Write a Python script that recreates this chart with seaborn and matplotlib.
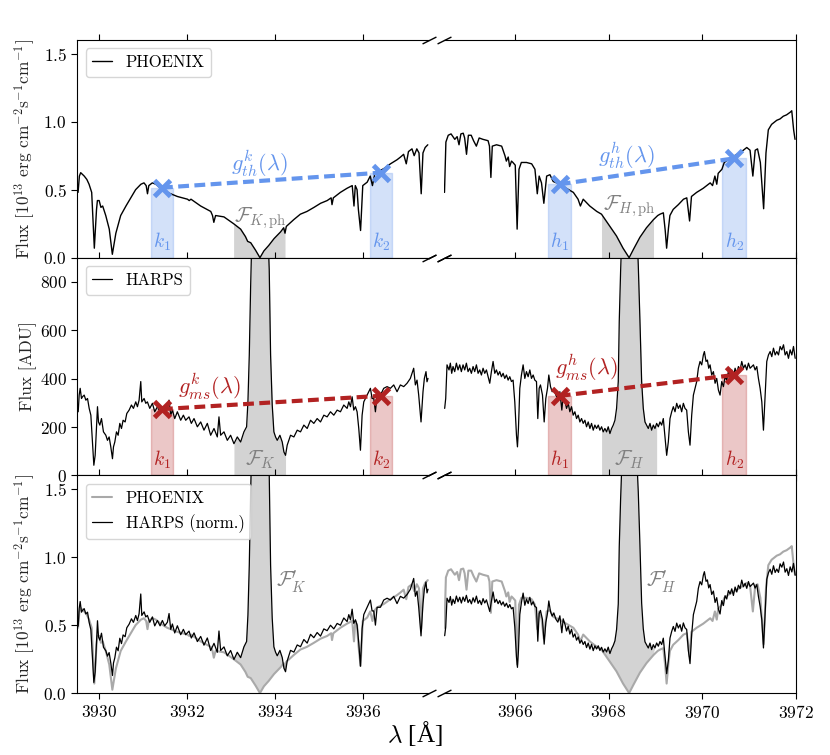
import numpy as np
import seaborn as sns
import matplotlib.pyplot as plt

# PHOENIX model spectrum around Ca II K [1e13 erg cm-2 s-1 cm-1]
phx_k_wl = [3929.52, 3929.55, 3929.58, 3929.66, 3929.72, 3929.77, 3929.83, 3929.89, 3929.94, 3929.96,
            3930.00, 3930.04, 3930.08, 3930.15, 3930.23, 3930.30, 3930.38, 3930.49, 3930.61, 3930.72,
            3930.83, 3930.95, 3931.02, 3931.07, 3931.10, 3931.13, 3931.21, 3931.29, 3931.40, 3931.55,
            3931.78, 3932.01, 3932.05, 3932.09, 3932.31, 3932.54, 3932.58, 3932.61, 3932.65, 3932.84,
            3933.06, 3933.22, 3933.33, 3933.38, 3933.45, 3933.56, 3933.66, 3933.75, 3933.86, 3933.98,
            3934.13, 3934.20, 3934.23, 3934.26, 3934.43, 3934.58, 3934.73, 3934.89, 3935.04, 3935.19,
            3935.28, 3935.30, 3935.33, 3935.49, 3935.64, 3935.76, 3935.80, 3935.83, 3935.87, 3935.90,
            3935.95, 3936.00, 3936.10, 3936.17, 3936.22, 3936.27, 3936.33, 3936.48, 3936.63, 3936.78,
            3936.86, 3936.93, 3936.99, 3937.04, 3937.12, 3937.17, 3937.23, 3937.28, 3937.33, 3937.37,
            3937.42, 3937.48]
phx_k_flux = [0.48, 0.60, 0.625, 0.60, 0.575, 0.54, 0.48, 0.07, 0.355, 0.42,
              0.42, 0.37, 0.38, 0.31, 0.21, 0.025, 0.18, 0.31, 0.38, 0.44,
              0.50, 0.54, 0.55, 0.53, 0.47, 0.53, 0.55, 0.54, 0.51, 0.48,
              0.45, 0.43, 0.42, 0.43, 0.38, 0.34, 0.31, 0.26, 0.31, 0.30,
              0.25, 0.21, 0.155, 0.12, 0.11, 0.055, 0.0, 0.05, 0.09, 0.14,
              0.19, 0.22, 0.18, 0.23, 0.28, 0.32, 0.34, 0.37, 0.40, 0.42,
              0.44, 0.39, 0.44, 0.48, 0.51, 0.53, 0.38, 0.53, 0.50, 0.355,
              0.20, 0.53, 0.555, 0.60, 0.53, 0.61, 0.63, 0.655, 0.69, 0.72,
              0.74, 0.76, 0.69, 0.78, 0.80, 0.75, 0.80, 0.77, 0.47, 0.77,
              0.81, 0.83]

# PHOENIX model spectrum around Ca II H
phx_h_wl = [3964.50, 3964.53, 3964.58, 3964.64, 3964.68, 3964.72, 3964.77, 3964.81, 3964.85, 3964.90,
            3964.93, 3964.97, 3965.01, 3965.07, 3965.12, 3965.18, 3965.24, 3965.32, 3965.43, 3965.46,
            3965.49, 3965.52, 3965.61, 3965.72, 3965.79, 3965.82, 3965.86, 3965.89, 3965.93, 3965.96,
            3966.01, 3966.05, 3966.09, 3966.14, 3966.25, 3966.36, 3966.43, 3966.48, 3966.52, 3966.57,
            3966.62, 3966.68, 3966.75, 3966.82, 3966.96, 3967.10, 3967.25, 3967.35, 3967.40, 3967.46,
            3967.60, 3967.75, 3967.85, 3968.03, 3968.17, 3968.31, 3968.44, 3968.53, 3968.67, 3968.81,
            3968.96, 3969.05, 3969.10, 3969.17, 3969.21, 3969.24, 3969.28, 3969.31, 3969.38, 3969.49,
            3969.60, 3969.67, 3969.73, 3969.77, 3969.88, 3970.02, 3970.17, 3970.22, 3970.27, 3970.31,
            3970.34, 3970.42, 3970.47, 3970.59, 3970.74, 3970.84, 3970.95, 3971.02, 3971.08, 3971.13,
            3971.18, 3971.24, 3971.31, 3971.36, 3971.41, 3971.48, 3971.59, 3971.66, 3971.73, 3971.80,
            3971.88, 3971.91, 3971.95, 3971.98]
phx_h_flux = [0.48, 0.85, 0.90, 0.91, 0.89, 0.87, 0.89, 0.83, 0.91, 0.915,
              0.88, 0.76, 0.90, 0.90, 0.86, 0.82, 0.88, 0.87, 0.86, 0.82,
              0.59, 0.82, 0.83, 0.82, 0.75, 0.71, 0.74, 0.67, 0.71, 0.70,
              0.68, 0.21, 0.65, 0.70, 0.70, 0.69, 0.65, 0.47, 0.60, 0.55,
              0.40, 0.60, 0.61, 0.56, 0.54, 0.51, 0.48, 0.43, 0.38, 0.43,
              0.38, 0.34, 0.32, 0.23, 0.16, 0.07, 0.0, 0.06, 0.15, 0.22,
              0.28, 0.31, 0.32, 0.33, 0.20, 0.07, 0.22, 0.31, 0.355, 0.39,
              0.43, 0.44, 0.27, 0.45, 0.48, 0.51, 0.55, 0.53, 0.60, 0.54,
              0.62, 0.65, 0.70, 0.73, 0.76, 0.78, 0.81, 0.79, 0.60, 0.79,
              0.80, 0.70, 0.36, 0.77, 0.94, 0.98, 1.01, 1.02, 1.04, 1.05,
              1.07, 1.08, 0.94, 0.87]

# HARPS observed spectrum around Ca II K [ADU]
harps_k_wl = [3929.523, 3929.545, 3929.568, 3929.598, 3929.621, 3929.659, 3929.697, 3929.735, 3929.773, 3929.811,
              3929.848, 3929.879, 3929.909, 3929.939, 3929.962, 3929.985, 3930.015, 3930.053, 3930.098, 3930.152,
              3930.189, 3930.227, 3930.265, 3930.303, 3930.326, 3930.356, 3930.394, 3930.432, 3930.470, 3930.508,
              3930.545, 3930.591, 3930.629, 3930.682, 3930.735, 3930.780, 3930.833, 3930.871, 3930.909, 3930.947,
              3930.970, 3931.023, 3931.061, 3931.098, 3931.152, 3931.212, 3931.265, 3931.326, 3931.386, 3931.439,
              3931.492, 3931.553, 3931.591, 3931.629, 3931.667, 3931.720, 3931.780, 3931.856, 3931.917, 3931.970,
              3932.045, 3932.098, 3932.159, 3932.235, 3932.311, 3932.386, 3932.462, 3932.538, 3932.614, 3932.689,
              3932.727, 3932.765, 3932.841, 3932.917, 3932.992, 3933.068, 3933.144, 3933.220, 3933.295, 3933.356,
              3933.386, 3933.417, 3933.447, 3933.477, 3933.523, 3933.598, 3933.659, 3933.720, 3933.795, 3933.841,
              3933.871, 3933.902, 3933.939, 3933.977, 3934.015, 3934.053, 3934.114, 3934.167, 3934.205, 3934.242,
              3934.280, 3934.318, 3934.356, 3934.432, 3934.508, 3934.583, 3934.659, 3934.735, 3934.811, 3934.886,
              3934.962, 3935.038, 3935.114, 3935.189, 3935.265, 3935.341, 3935.417, 3935.492, 3935.568, 3935.644,
              3935.682, 3935.720, 3935.758, 3935.795, 3935.833, 3935.871, 3935.909, 3935.947, 3935.985, 3936.023,
              3936.098, 3936.174, 3936.212, 3936.250, 3936.288, 3936.326, 3936.402, 3936.477, 3936.553, 3936.629,
              3936.705, 3936.780, 3936.856, 3936.932, 3937.008, 3937.083, 3937.159, 3937.197, 3937.235, 3937.273,
              3937.326, 3937.371, 3937.402, 3937.439, 3937.462, 3937.485]
harps_k_adu = [263, 332, 360, 318, 325, 332, 311, 318, 277, 249,
               138, 42, 83, 194, 284, 221, 208, 235, 180, 166,
               145, 159, 118, 69, 118, 138, 180, 166, 215, 194,
               228, 221, 256, 270, 291, 277, 304, 284, 311, 388,
               304, 318, 298, 304, 277, 298, 263, 284, 263, 284,
               263, 277, 311, 249, 270, 235, 263, 228, 249, 228,
               242, 215, 235, 201, 221, 187, 215, 166, 194, 159,
               242, 166, 180, 145, 166, 131, 159, 138, 180, 201,
               304, 498, 775, 1000, 1250, 1420, 1380, 1430, 1250, 1000,
               850, 498, 291, 180, 159, 145, 166, 138, 97, 83,
               125, 145, 166, 159, 187, 180, 208, 194, 228, 215,
               235, 221, 249, 242, 263, 249, 270, 263, 291, 277,
               304, 284, 325, 270, 284, 263, 194, 104, 249, 304,
               332, 360, 318, 318, 263, 332, 332, 360, 367, 360,
               374, 346, 374, 367, 381, 401, 443, 374, 394, 332,
               221, 346, 401, 429, 387, 401]

# HARPS observed spectrum around Ca II H [ADU]
harps_h_wl = [3964.504, 3964.526, 3964.554, 3964.597, 3964.625, 3964.654, 3964.682, 3964.718, 3964.754, 3964.789,
              3964.825, 3964.860, 3964.896, 3964.932, 3964.967, 3965.003, 3965.038, 3965.074, 3965.110, 3965.145,
              3965.181, 3965.217, 3965.252, 3965.288, 3965.323, 3965.359, 3965.395, 3965.430, 3965.466, 3965.501,
              3965.537, 3965.573, 3965.608, 3965.644, 3965.679, 3965.715, 3965.751, 3965.786, 3965.822, 3965.858,
              3965.893, 3965.929, 3965.964, 3966.000, 3966.036, 3966.057, 3966.078, 3966.107, 3966.142, 3966.178,
              3966.214, 3966.249, 3966.285, 3966.321, 3966.356, 3966.392, 3966.427, 3966.463, 3966.491, 3966.520,
              3966.548, 3966.591, 3966.627, 3966.662, 3966.698, 3966.726, 3966.762, 3966.798, 3966.833, 3966.876,
              3966.919, 3966.962, 3967.004, 3967.033, 3967.075, 3967.104, 3967.140, 3967.175, 3967.211, 3967.246,
              3967.282, 3967.318, 3967.353, 3967.389, 3967.425, 3967.460, 3967.496, 3967.531, 3967.567, 3967.603,
              3967.638, 3967.674, 3967.709, 3967.745, 3967.781, 3967.816, 3967.852, 3967.887, 3967.923, 3967.959,
              3967.994, 3968.030, 3968.066, 3968.101, 3968.137, 3968.172, 3968.208, 3968.229, 3968.258, 3968.286,
              3968.329, 3968.386, 3968.443, 3968.500, 3968.564, 3968.607, 3968.635, 3968.671, 3968.707, 3968.742,
              3968.778, 3968.813, 3968.849, 3968.885, 3968.920, 3968.956, 3968.991, 3969.027, 3969.063, 3969.098,
              3969.134, 3969.169, 3969.205, 3969.241, 3969.276, 3969.312, 3969.348, 3969.383, 3969.419, 3969.455,
              3969.490, 3969.526, 3969.561, 3969.597, 3969.632, 3969.668, 3969.704, 3969.739, 3969.775, 3969.811,
              3969.846, 3969.882, 3969.917, 3969.953, 3969.989, 3970.024, 3970.046, 3970.081, 3970.110, 3970.138,
              3970.167, 3970.202, 3970.238, 3970.274, 3970.309, 3970.345, 3970.380, 3970.416, 3970.452, 3970.487,
              3970.523, 3970.558, 3970.594, 3970.630, 3970.665, 3970.701, 3970.737, 3970.772, 3970.808, 3970.843,
              3970.879, 3970.915, 3970.950, 3970.986, 3971.021, 3971.057, 3971.093, 3971.128, 3971.164, 3971.199,
              3971.235, 3971.271, 3971.306, 3971.342, 3971.377, 3971.413, 3971.449, 3971.484, 3971.520, 3971.556,
              3971.591, 3971.627, 3971.662, 3971.698, 3971.734, 3971.769, 3971.805, 3971.840, 3971.876, 3971.912,
              3971.947, 3971.983]
harps_h_adu = [277, 318, 457, 436, 464, 422, 450, 429, 464, 436,
               457, 429, 457, 436, 464, 429, 443, 422, 450, 429,
               457, 422, 436, 415, 443, 422, 436, 408, 381, 429,
               471, 422, 436, 415, 429, 408, 422, 401, 415, 394,
               408, 388, 394, 304, 166, 118, 194, 360, 415, 457,
               401, 429, 408, 436, 401, 415, 394, 388, 235, 360,
               374, 332, 221, 318, 360, 415, 367, 346, 360, 332,
               318, 346, 270, 332, 304, 277, 298, 263, 284, 249,
               263, 235, 249, 221, 235, 215, 228, 201, 221, 194,
               215, 187, 208, 194, 208, 187, 201, 180, 194, 180,
               201, 173, 194, 208, 228, 277, 388, 637, 844, 1000,
               1250, 1420, 1380, 1420, 1250, 1000, 870, 637, 388, 277,
               221, 208, 194, 215, 187, 208, 194, 215, 201, 221,
               208, 235, 159, 83, 138, 235, 263, 284, 263, 298,
               277, 291, 263, 298, 277, 270, 180, 125, 249, 332,
               360, 388, 443, 471, 457, 498, 512, 471, 477, 443,
               457, 415, 429, 381, 401, 353, 332, 388, 367, 408,
               394, 429, 415, 436, 408, 443, 422, 450, 436, 471,
               443, 457, 436, 464, 443, 450, 457, 436, 450, 401,
               360, 304, 187, 332, 471, 498, 512, 491, 526, 498,
               512, 498, 533, 519, 540, 498, 512, 484, 519, 498,
               533, 484]

# pseudo-continuum anchor points (centres of the k1,k2 / h1,h2 windows)
k_anchor_wl = [3931.43, 3936.41]
h_anchor_wl = [3966.96, 3970.68]
k_gth = [0.515, 0.625]
h_gth = [0.54, 0.73]
k_gms = [274, 329]
h_gms = [329, 415]
k_core, h_core = 3933.66, 3968.45
core_halfwidth = 0.60
band_halfwidth = 0.25

BLUE = "cornflowerblue"
RED = "firebrick"
GRAY = "lightgray"

sns.set_style("ticks")
plt.rcParams["font.family"] = "serif"
plt.rcParams["font.serif"] = ["cmr10"]
plt.rcParams["mathtext.fontset"] = "cm"
plt.rcParams["axes.formatter.use_mathtext"] = True
plt.rcParams["axes.edgecolor"] = "black"
plt.rcParams["text.color"] = "black"
plt.rcParams["xtick.color"] = "black"
plt.rcParams["ytick.color"] = "black"


def linear(wl_pair, val_pair, wl):
    slope = (val_pair[1] - val_pair[0]) / (wl_pair[1] - wl_pair[0])
    return val_pair[0] + slope * (np.asarray(wl) - wl_pair[0])


sides = [
    dict(phx_wl=np.array(phx_k_wl), phx=np.array(phx_k_flux),
         h_wl=np.array(harps_k_wl), h=np.array(harps_k_adu, dtype=float),
         anchors=k_anchor_wl, gth=k_gth, gms=k_gms, core=k_core,
         xlim=(3929.5, 3937.5), xticks=[3930, 3932, 3934, 3936],
         names=("k", "K")),
    dict(phx_wl=np.array(phx_h_wl), phx=np.array(phx_h_flux),
         h_wl=np.array(harps_h_wl), h=np.array(harps_h_adu, dtype=float),
         anchors=h_anchor_wl, gth=h_gth, gms=h_gms, core=h_core,
         xlim=(3964.5, 3972.0), xticks=[3966, 3968, 3970, 3972],
         names=("h", "H")),
]

fig, axes = plt.subplots(3, 2, figsize=(8.3, 7.55), dpi=100, sharex="col",
                         gridspec_kw=dict(hspace=0, wspace=0.045))
fig.subplots_adjust(left=0.093, right=0.959, top=0.947, bottom=0.082)

for col, s in enumerate(sides):
    lo, hi = s["core"] - core_halfwidth, s["core"] + core_halfwidth
    pm = (s["phx_wl"] >= lo) & (s["phx_wl"] <= hi)
    hm = (s["h_wl"] >= lo) & (s["h_wl"] <= hi)
    norm = s["h"] * linear(s["anchors"], s["gth"], s["h_wl"]) / linear(s["anchors"], s["gms"], s["h_wl"])
    small, big = s["names"]
    lab = "PHOENIX" if col == 0 else None

    # --- top: PHOENIX model
    ax = axes[0, col]
    ax.fill_between(s["phx_wl"][pm], 0, s["phx"][pm], color=GRAY, lw=0)
    for i, w in enumerate(s["anchors"]):
        ax.fill_between([w - band_halfwidth, w + band_halfwidth], 0, s["gth"][i],
                        color=BLUE, alpha=0.28, lw=1)
        ax.text(w, 0.12, rf"${small}_{i + 1}$", color=BLUE, fontsize=14, ha="center", va="center")
    sns.lineplot(x=s["phx_wl"], y=s["phx"], ax=ax, color="k", lw=1.0,
                 estimator=None, sort=False, label=lab)
    ax.plot(s["anchors"], s["gth"], color=BLUE, lw=3, ls="--", dashes=(2.6, 1.3),
            marker="x", ms=12, mew=3.5, zorder=5)
    gx = s["core"] - 0.02 if col == 0 else s["core"] - 0.06
    gy = 0.69 if col == 0 else 0.75
    ax.text(gx, gy, rf"$g^{small}_{{th}}(\lambda)$", color=BLUE, fontsize=16, ha="center", va="center")
    fy = 0.29 if col == 0 else 0.38
    ax.text(s["core"], fy, rf"$\mathcal{{F}}_{{{big},\rm ph}}$", color="gray", fontsize=15,
            ha="center", va="center")
    ax.set_ylim(0, 1.6)

    # --- middle: HARPS counts
    ax = axes[1, col]
    ax.fill_between(s["h_wl"][hm], 0, s["h"][hm], color=GRAY, lw=0)
    for i, w in enumerate(s["anchors"]):
        ax.fill_between([w - band_halfwidth, w + band_halfwidth], 0, s["gms"][i],
                        color=RED, alpha=0.25, lw=1)
        ax.text(w, 66, rf"${small}_{i + 1}$", color=RED, fontsize=14, ha="center", va="center")
    sns.lineplot(x=s["h_wl"], y=s["h"], ax=ax, color="k", lw=0.9,
                 estimator=None, sort=False, label="HARPS" if col == 0 else None)
    ax.plot(s["anchors"], s["gms"], color=RED, lw=3, ls="--", dashes=(2.6, 1.3),
            marker="x", ms=12, mew=3.5, zorder=5)
    mx, my = (3932.52, 367) if col == 0 else (3967.53, 443)
    ax.text(mx, my, rf"$g^{small}_{{ms}}(\lambda)$", color=RED, fontsize=16, ha="center", va="center")
    ax.text(s["core"], 64, rf"$\mathcal{{F}}_{{{big}}}$", color="gray", fontsize=15,
            ha="center", va="center")
    ax.set_ylim(0, 900)

    # --- bottom: PHOENIX vs normalised HARPS
    ax = axes[2, col]
    poly_x = np.concatenate([s["h_wl"][hm], s["phx_wl"][pm][::-1]])
    poly_y = np.concatenate([norm[hm], s["phx"][pm][::-1]])
    ax.fill(poly_x, poly_y, color=GRAY, lw=0)
    sns.lineplot(x=s["phx_wl"], y=s["phx"], ax=ax, color="darkgray", lw=1.5,
                 estimator=None, sort=False, label=lab)
    sns.lineplot(x=s["h_wl"], y=norm, ax=ax, color="k", lw=0.9,
                 estimator=None, sort=False, label="HARPS (norm.)" if col == 0 else None)
    ax.text(s["core"] + 0.36, 0.82, rf"$\mathcal{{F}}^{{\prime}}_{{{big}}}$", color="gray",
            fontsize=15, ha="left", va="center")
    ax.set_ylim(0, 1.6)

    for ax in axes[:, col]:
        ax.set_xlim(*s["xlim"])
        ax.set_xticks(s["xticks"])
        ax.tick_params(direction="out", top=True, bottom=True, length=4, labelsize=12.5)
        ax.set_xlabel("")
        ax.set_ylabel("")
        if col == 0:
            ax.spines["right"].set_visible(False)
            ax.plot([1, 1], [0, 1], transform=ax.transAxes, marker=[(-1, -0.5), (1, 0.5)],
                    ms=10, ls="none", color="k", mec="k", mew=1, clip_on=False)
        else:
            ax.spines["left"].set_visible(False)
            ax.tick_params(left=False, labelleft=False)
            ax.plot([0, 0], [0, 1], transform=ax.transAxes, marker=[(-1, -0.5), (1, 0.5)],
                    ms=10, ls="none", color="k", mec="k", mew=1, clip_on=False)
            leg = ax.get_legend()
            if leg is not None:
                leg.remove()

for ax in axes[:2, :].flat:
    ax.tick_params(labelbottom=False)

axes[0, 0].set_yticks([0.0, 0.5, 1.0, 1.5])
axes[1, 0].set_yticks([0, 200, 400, 600, 800])
axes[2, 0].set_yticks([0.0, 0.5, 1.0, 1.5])
for ax in axes[:, 0]:
    ax.legend(loc="upper left", fontsize=12, handlelength=1.2)

flux_label = r"Flux [$10^{13}$ erg cm$^{-2}$s$^{-1}$cm$^{-1}$]"
axes[0, 0].set_ylabel(flux_label, fontsize=12.5)
axes[1, 0].set_ylabel("Flux [ADU]", fontsize=12.5)
axes[2, 0].set_ylabel(flux_label, fontsize=12.5)
for ax in axes[:, 0]:
    ax.yaxis.set_label_coords(-0.114, 0.5)

fig.text(0.5, 0.028, r"$\lambda$ [Å]", ha="center", va="center", fontsize=18,
         family="Liberation Serif")

plt.savefig("out.png", dpi=100)
